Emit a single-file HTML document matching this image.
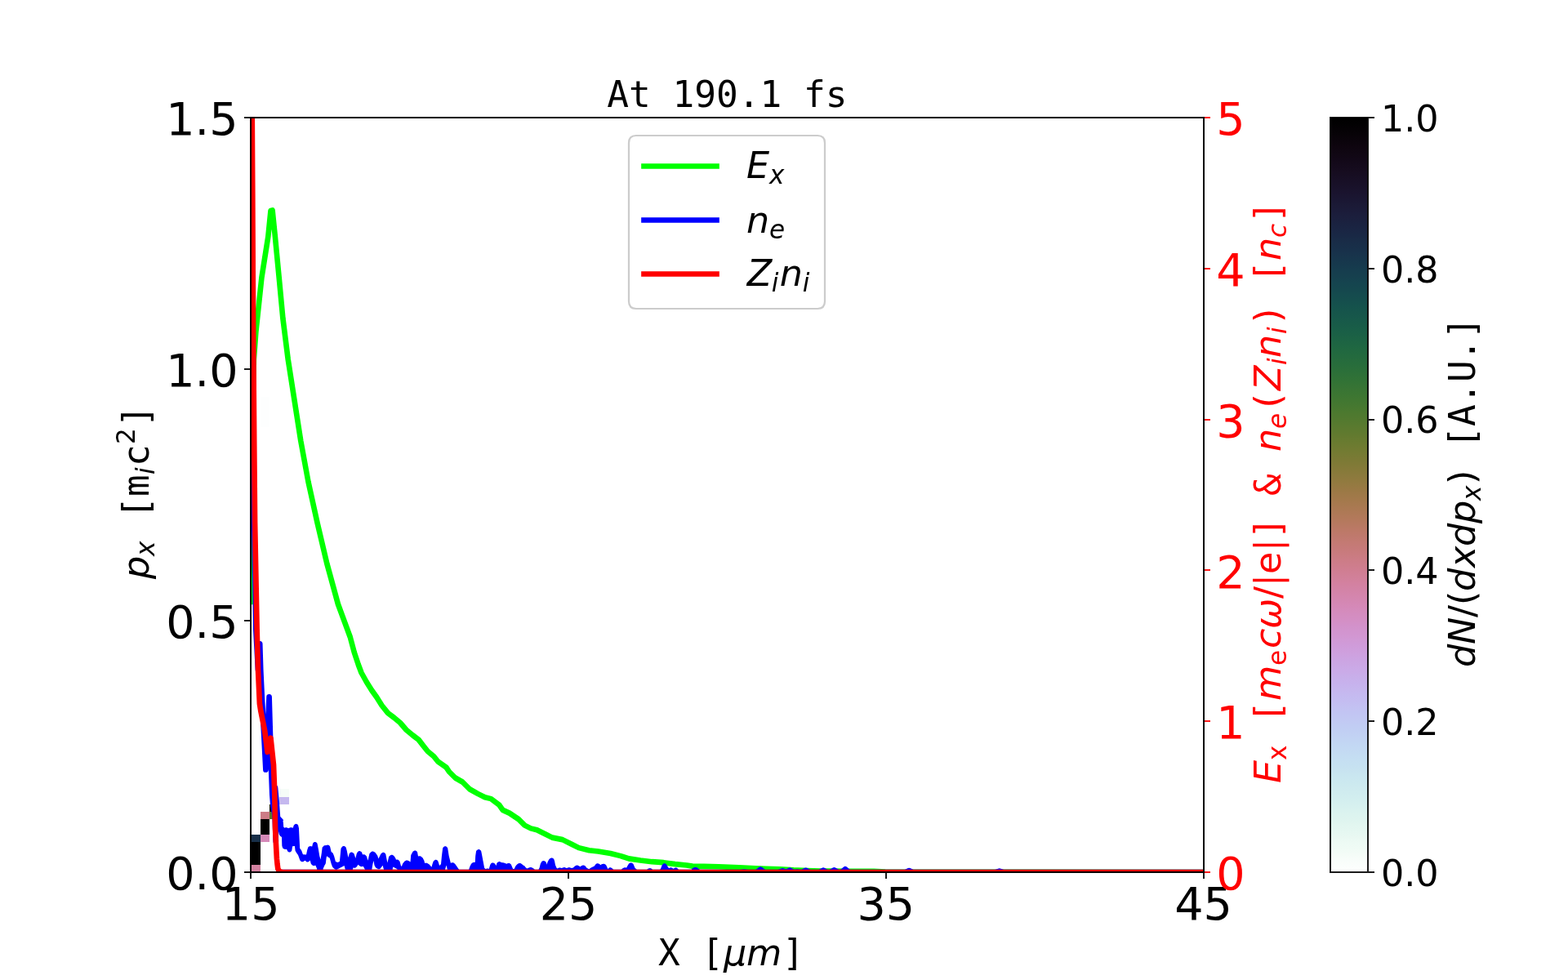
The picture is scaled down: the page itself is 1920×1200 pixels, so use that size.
<!DOCTYPE html>
<html lang="en">
<head>
<meta charset="utf-8">
<title>At 190.1 fs</title>
<style>
html,body{margin:0;padding:0;background:#fff;}
body{width:1920px;height:1200px;overflow:hidden;}
svg{display:block;}
text{white-space:pre;}
.s{font-family:"DejaVu Sans","Liberation Sans",sans-serif;}
.si{font-family:"DejaVu Sans","Liberation Sans",sans-serif;font-style:oblique;}
.m{font-family:"DejaVu Sans Mono","Liberation Mono",monospace;}
.mi{font-family:"DejaVu Sans Mono","Liberation Mono",monospace;font-style:oblique;}
</style>
</head>
<body>
<svg width="1920" height="1200" viewBox="0 0 1920 1200">
<defs>
<clipPath id="ax"><rect x="307.2" y="144" width="1166.4" height="924"/></clipPath>
<linearGradient id="cb" x1="0" y1="0" x2="0" y2="1"><stop offset="0" stop-color="#000000"/><stop offset="0.0078" stop-color="#020102"/><stop offset="0.0156" stop-color="#050205"/><stop offset="0.0234" stop-color="#080308"/><stop offset="0.0312" stop-color="#0b040c"/><stop offset="0.0391" stop-color="#0e050f"/><stop offset="0.0469" stop-color="#100713"/><stop offset="0.0547" stop-color="#120817"/><stop offset="0.0625" stop-color="#140a1b"/><stop offset="0.0703" stop-color="#160c1f"/><stop offset="0.0781" stop-color="#170e23"/><stop offset="0.0859" stop-color="#181027"/><stop offset="0.0938" stop-color="#19122b"/><stop offset="0.1016" stop-color="#1a142f"/><stop offset="0.1094" stop-color="#1a1733"/><stop offset="0.1172" stop-color="#1b1a36"/><stop offset="0.125" stop-color="#1b1c3a"/><stop offset="0.1328" stop-color="#1b1f3d"/><stop offset="0.1406" stop-color="#1a2240"/><stop offset="0.1484" stop-color="#1a2543"/><stop offset="0.1562" stop-color="#192845"/><stop offset="0.1641" stop-color="#192c47"/><stop offset="0.1719" stop-color="#182f49"/><stop offset="0.1797" stop-color="#18324b"/><stop offset="0.1875" stop-color="#17364c"/><stop offset="0.1953" stop-color="#16394d"/><stop offset="0.2031" stop-color="#163d4e"/><stop offset="0.2109" stop-color="#16404e"/><stop offset="0.2188" stop-color="#15444f"/><stop offset="0.2266" stop-color="#15474e"/><stop offset="0.2344" stop-color="#154b4e"/><stop offset="0.2422" stop-color="#154e4d"/><stop offset="0.25" stop-color="#15524c"/><stop offset="0.2578" stop-color="#16554b"/><stop offset="0.2656" stop-color="#17584a"/><stop offset="0.2734" stop-color="#185b48"/><stop offset="0.2812" stop-color="#195e47"/><stop offset="0.2891" stop-color="#1b6145"/><stop offset="0.2969" stop-color="#1d6443"/><stop offset="0.3047" stop-color="#1f6741"/><stop offset="0.3125" stop-color="#22693f"/><stop offset="0.3203" stop-color="#256b3d"/><stop offset="0.3281" stop-color="#286d3b"/><stop offset="0.3359" stop-color="#2b6f39"/><stop offset="0.3438" stop-color="#2f7137"/><stop offset="0.3516" stop-color="#337335"/><stop offset="0.3594" stop-color="#387434"/><stop offset="0.3672" stop-color="#3c7632"/><stop offset="0.375" stop-color="#417731"/><stop offset="0.3828" stop-color="#467830"/><stop offset="0.3906" stop-color="#4c792f"/><stop offset="0.3984" stop-color="#51792f"/><stop offset="0.4062" stop-color="#577a2f"/><stop offset="0.4141" stop-color="#5d7a2f"/><stop offset="0.4219" stop-color="#637a2f"/><stop offset="0.4297" stop-color="#697b30"/><stop offset="0.4375" stop-color="#6f7b31"/><stop offset="0.4453" stop-color="#757b33"/><stop offset="0.4531" stop-color="#7b7a35"/><stop offset="0.4609" stop-color="#817a37"/><stop offset="0.4688" stop-color="#877a3a"/><stop offset="0.4766" stop-color="#8d7a3d"/><stop offset="0.4844" stop-color="#937a40"/><stop offset="0.4922" stop-color="#997944"/><stop offset="0.5" stop-color="#9f7948"/><stop offset="0.5078" stop-color="#a4794c"/><stop offset="0.5156" stop-color="#a97951"/><stop offset="0.5234" stop-color="#ae7956"/><stop offset="0.5312" stop-color="#b3795b"/><stop offset="0.5391" stop-color="#b77961"/><stop offset="0.5469" stop-color="#bc7967"/><stop offset="0.5547" stop-color="#bf796d"/><stop offset="0.5625" stop-color="#c37a73"/><stop offset="0.5703" stop-color="#c67a79"/><stop offset="0.5781" stop-color="#c97b7f"/><stop offset="0.5859" stop-color="#cc7c86"/><stop offset="0.5938" stop-color="#ce7d8c"/><stop offset="0.6016" stop-color="#d07e93"/><stop offset="0.6094" stop-color="#d18099"/><stop offset="0.6172" stop-color="#d381a0"/><stop offset="0.625" stop-color="#d383a6"/><stop offset="0.6328" stop-color="#d485ac"/><stop offset="0.6406" stop-color="#d487b2"/><stop offset="0.6484" stop-color="#d589b8"/><stop offset="0.6562" stop-color="#d48cbe"/><stop offset="0.6641" stop-color="#d48ec3"/><stop offset="0.6719" stop-color="#d391c9"/><stop offset="0.6797" stop-color="#d294ce"/><stop offset="0.6875" stop-color="#d297d2"/><stop offset="0.6953" stop-color="#d09ad7"/><stop offset="0.7031" stop-color="#cf9ddb"/><stop offset="0.7109" stop-color="#cea1df"/><stop offset="0.7188" stop-color="#cca4e2"/><stop offset="0.7266" stop-color="#cba8e5"/><stop offset="0.7344" stop-color="#caabe8"/><stop offset="0.7422" stop-color="#c8afea"/><stop offset="0.75" stop-color="#c7b2ed"/><stop offset="0.7578" stop-color="#c6b6ee"/><stop offset="0.7656" stop-color="#c5baf0"/><stop offset="0.7734" stop-color="#c4bdf1"/><stop offset="0.7812" stop-color="#c3c1f2"/><stop offset="0.7891" stop-color="#c2c5f3"/><stop offset="0.7969" stop-color="#c2c8f3"/><stop offset="0.8047" stop-color="#c1ccf3"/><stop offset="0.8125" stop-color="#c1cff3"/><stop offset="0.8203" stop-color="#c2d2f3"/><stop offset="0.8281" stop-color="#c2d6f3"/><stop offset="0.8359" stop-color="#c3d9f3"/><stop offset="0.8438" stop-color="#c4dcf2"/><stop offset="0.8516" stop-color="#c5dff2"/><stop offset="0.8594" stop-color="#c6e1f1"/><stop offset="0.8672" stop-color="#c8e4f0"/><stop offset="0.875" stop-color="#cae7f0"/><stop offset="0.8828" stop-color="#cce9ef"/><stop offset="0.8906" stop-color="#cfebef"/><stop offset="0.8984" stop-color="#d1edef"/><stop offset="0.9062" stop-color="#d4efef"/><stop offset="0.9141" stop-color="#d7f1ef"/><stop offset="0.9219" stop-color="#dbf3ef"/><stop offset="0.9297" stop-color="#def4ef"/><stop offset="0.9375" stop-color="#e2f6f0"/><stop offset="0.9453" stop-color="#e5f7f1"/><stop offset="0.9531" stop-color="#e9f8f2"/><stop offset="0.9609" stop-color="#edfaf4"/><stop offset="0.9688" stop-color="#f0fbf5"/><stop offset="0.9766" stop-color="#f4fcf7"/><stop offset="0.9844" stop-color="#f8fdfa"/><stop offset="0.9922" stop-color="#fbfefc"/><stop offset="1" stop-color="#ffffff"/></linearGradient>
</defs>
<rect width="1920" height="1200" fill="#fff"/>
<g clip-path="url(#ax)" shape-rendering="crispEdges">
<rect x="307" y="1059" width="12" height="9" fill="#d381a0"/>
<rect x="307" y="1050" width="12" height="9" fill="#000000"/>
<rect x="307" y="1040" width="12" height="10" fill="#000000"/>
<rect x="307" y="1031" width="12" height="9" fill="#000000"/>
<rect x="307" y="1022" width="12" height="9" fill="#182f49"/>
<rect x="319" y="1022" width="11" height="9" fill="#d589b8"/>
<rect x="319" y="1013" width="11" height="9" fill="#000000"/>
<rect x="319" y="1003" width="11" height="10" fill="#000000"/>
<rect x="319" y="994" width="11" height="9" fill="#cc7c86"/>
<rect x="330" y="994" width="12" height="9" fill="#5a7a2f"/>
<rect x="330" y="985" width="12" height="9" fill="#000000"/>
<rect x="342" y="976" width="12" height="9" fill="#c5b8ef"/>
<rect x="342" y="966" width="12" height="10" fill="#f6fcf8"/>
<rect x="319" y="514" width="11" height="9" fill="#fdfefe"/>
<rect x="319" y="504" width="11" height="10" fill="#fdfefe"/>
<rect x="319" y="495" width="11" height="9" fill="#fdfefe"/>
<rect x="319" y="486" width="11" height="9" fill="#fdfefe"/>
</g>
<g clip-path="url(#ax)">
<path d="M307.2 737 L308.5 600 L310.8 440 L313.3 407 L316.9 373 L320.4 340 L325.6 307 L328.3 290 L331.5 258 L333.6 257.5 L336.9 290 L341.7 340 L346.4 390 L352.7 440 L368.3 540 L377.5 590 L388.5 640 L400.3 690 L414 740 L428.75 780 L433.75 798.75 L438.75 813.75 L442.5 823.75 L448.75 835 L455 845 L461.25 853.75 L467.5 863.75 L475 873.12 L482.5 878.75 L490 885 L497.5 893.75 L505 900 L512.5 905.62 L518.75 913.75 L523.75 920 L531.25 926.25 L536.25 932.5 L546.25 939.38 L550 945 L557.5 952.5 L566.25 957.5 L575 966.25 L585 971.88 L593.75 976.25 L601.25 978.12 L611.25 985.62 L615.62 991.88 L623.75 995.62 L635 1003.12 L642.5 1010.62 L650 1014.38 L657.5 1016.25 L667.5 1021.25 L676.25 1025.62 L688.75 1028.12 L700 1033.75 L708.75 1038.12 L721.25 1041.25 L732.5 1042.5 L747.5 1045 L760 1048.12 L770 1051.4 L784.2 1053.5 L798.3 1055.2 L812.5 1056.2 L826.7 1058.1 L840.8 1059.5 L847.9 1060.6 L862 1060.8 L880 1061.25 L905 1062.3 L930 1063.5 L955 1064.3 L971.7 1065.4 L988.3 1066 L1005 1066.5 L1038 1066.8 L1070 1066.8 L1084 1067.6 L1473.6 1068" fill="none" stroke="#00ff00" stroke-width="6.67" stroke-linecap="square" stroke-linejoin="round"/>
<path d="M307.8 100 L308.5 240 L309.1 340 L309.7 440 L310.4 540 L311.2 640 L313.3 770 L316 820 L318.2 788.3 L319.2 820 L320.8 853.3 L325.4 942.5 L329.6 853.3 L332.3 946.7 L333.3 973 L334.4 986.7 L336.6 998 L337.8 1030 L337 964.5 L338.7 983.3 L340 1001.3 L342.5 1004" fill="none" stroke="#0000ff" stroke-width="6.67" stroke-linecap="square" stroke-linejoin="round"/>
<path d="M349 1068 L860 1068 L906.75 1068 L911.25 1067.5 L915.75 1068 L926.75 1068 L931.25 1064.6 L935.75 1068 L953.8 1068 L958.3 1066.4 L962.8 1068 L962.6 1068 L967.1 1065.6 L971.6 1068 L971.75 1068 L976.25 1067.5 L980.75 1068 L982.2 1068 L986.7 1065.8 L991.2 1068 L1003.6 1068 L1008.1 1065.7 L1012.6 1068 L1016.9 1068 L1021.4 1065.4 L1025.9 1068 L1030.5 1068 L1035 1064.2 L1039.5 1068 L1108.7 1068 L1113.2 1066.1 L1117.7 1068 L1219.3 1068 L1223.8 1066.7 L1228.3 1068 L1473.6 1068" fill="none" stroke="#0000ff" stroke-width="6.67" stroke-linecap="square" stroke-linejoin="round"/>
<path d="M340.31 1014.38 L341.78 1021.42 L342.13 1022.26 L343.16 1023.72 L345 1025 L345.3 1035.31 L345.4 1035.93 L345.97 1037.83 L346.22 1038.39 L346.6 1038.86 L347.08 1039.23 L347.74 1039.6 L348.46 1039.87 L349.23 1039.9 L350.94 1039.69 L352.18 1042.16 L352.58 1042.74 L353.32 1043.28 L353.97 1043.53 L354.66 1043.59 L355.34 1043.45 L355.95 1043.12 L356.85 1042.34 L357.17 1041.82 L357.34 1041.23 L358.13 1036.25 L360.94 1035.94 L361.51 1041.35 L361.62 1041.86 L361.84 1042.33 L363.34 1044.84 L365 1046.88 L367.29 1053.17 L367.56 1053.71 L367.96 1054.16 L368.66 1054.76 L369.17 1055.1 L369.74 1055.31 L370.35 1055.36 L370.96 1055.25 L371.51 1054.99 L372.55 1054.35 L373.75 1053.75 L374.79 1054.79 L375.24 1055.14 L375.76 1055.38 L376.31 1055.49 L376.88 1055.46 L377.7 1055.18 L378.45 1054.67 L379.69 1053.44 L380.75 1057.43 L381.03 1058.07 L381.48 1058.6 L382.54 1059.55 L383 1059.87 L383.54 1060.08 L384.1 1060.15 L384.67 1060.09 L385.2 1059.9 L386.25 1059.38 L388.12 1063.75 L388.38 1068.72 L388.49 1069.32 L388.74 1069.87 L389.13 1070.34 L389.62 1070.7 L390.18 1070.92 L390.78 1071 L393.01 1071 L393.61 1070.92 L394.17 1070.7 L394.66 1070.33 L395.05 1069.86 L395.3 1069.31 L395.4 1068.71 L395.63 1063.75 L397.5 1059.38 L398.44 1057.97 L398.69 1057.48 L398.82 1056.94 L399.68 1050.06 L400.31 1048.13 L401.6 1049.41 L402.22 1049.86 L403.75 1050.63 L405.6 1057.41 L406.98 1061.3 L407.25 1061.83 L407.65 1062.28 L409.91 1064.3 L410.38 1064.62 L410.91 1064.83 L411.48 1064.9 L412.04 1064.84 L412.58 1064.65 L416.27 1062.8 L421.56 1060 L422.81 1064.69 L422.93 1068.67 L423.03 1069.28 L423.28 1069.84 L423.66 1070.32 L424.15 1070.69 L424.72 1070.92 L425.33 1071 L429.24 1071 L429.84 1070.92 L430.4 1070.7 L430.88 1070.35 L431.27 1069.88 L431.52 1069.33 L431.63 1068.74 L431.88 1064.69 L432.5 1062.5 L433.97 1062.68 L434.62 1062.68 L435.25 1062.49 L435.8 1062.15 L436.58 1061.5 L437.08 1060.92 L438.44 1058.75 L440.27 1060.32 L441.07 1060.77 L441.8 1061.02 L442.5 1061.14 L443.21 1061.05 L444.69 1060.63 L446.87 1064.38 L447.09 1068.72 L447.19 1069.32 L447.45 1069.87 L447.83 1070.34 L448.32 1070.7 L448.88 1070.92 L449.49 1071 L452.72 1071 L453.32 1070.92 L453.88 1070.7 L454.37 1070.34 L454.75 1069.87 L455.01 1069.32 L455.11 1068.72 L455.33 1064.61 L456.55 1057.56 L457.5 1054.07 L458.38 1059.03 L458.59 1059.69 L459.69 1061.87 L460.07 1062.43 L460.6 1062.86 L462.27 1063.86 L462.85 1064.11 L463.47 1064.21 L464.09 1064.13 L465.31 1063.77 L465.76 1063.46 L466.14 1063.07 L468.62 1059.69 L470 1064.69 L470.19 1068.71 L470.3 1069.31 L470.55 1069.87 L470.93 1070.34 L471.42 1070.7 L471.99 1070.92 L472.59 1071 L478.02 1071 L478.62 1070.92 L479.18 1070.7 L479.67 1070.34 L480.06 1069.87 L480.31 1069.32 L480.42 1068.72 L480.62 1064.77 L481.25 1061.57 L485.62 1063.75 L486.87 1065 L487.08 1068.73 L487.19 1069.33 L487.44 1069.87 L487.82 1070.34 L488.31 1070.7 L488.87 1070.92 L489.47 1071 L542.41 1071 L543.01 1070.92 L543.58 1070.7 L544.07 1070.34 L544.45 1069.87 L544.7 1069.31 L544.81 1068.71 L545 1064.69 L546.56 1059.38 L547.81 1064.69 L548 1068.71 L548.1 1069.31 L548.35 1069.86 L548.74 1070.34 L549.22 1070.7 L549.79 1070.92 L550.39 1071 L859.76 1071 L860.38 1070.92 L860.95 1070.69 L861.44 1070.32 L861.82 1069.84 L862.07 1069.27 L862.16 1068.67 L862.1 1068.05 L861.89 1067.48 L861.53 1066.97 L861.06 1066.58 L860.5 1066.32 L857.4 1065.31 L855.78 1063.97 L854.14 1062.74 L853.73 1062.49 L853.28 1062.33 L852.07 1062.03 L851.25 1061.97 L850.47 1062.05 L849.77 1062.23 L848.68 1062.69 L848.09 1063.05 L847.62 1063.57 L846.49 1065.26 L846.4 1065.31 L831.36 1065.31 L829.67 1063.41 L829.23 1063.03 L828.23 1062.58 L827.55 1062.43 L826.86 1062.48 L826.22 1062.73 L824.58 1063.64 L823.07 1062.73 L822.32 1062.43 L821.75 1062.28 L821.16 1062.27 L820.59 1062.41 L819.12 1062.97 L818.07 1061.93 L816.84 1059.7 L815.9 1058.36 L815.4 1057.85 L814.78 1057.5 L813.91 1057.25 L813.37 1057.24 L812.84 1057.35 L812.14 1057.69 L811.64 1058.17 L810.76 1059.27 L810.39 1059.95 L809.22 1063.23 L807.95 1065.26 L807.86 1065.31 L799.32 1065.31 L798.43 1064.24 L797.97 1063.82 L797.43 1063.53 L796.64 1063.23 L795.93 1063.08 L795.21 1063.15 L793.89 1063.55 L793.42 1063.87 L791.77 1065.31 L780 1065 L777.5 1062.81 L775.63 1058.3 L775.37 1057.81 L775.01 1057.4 L773.83 1056.69 L773.16 1056.44 L772.44 1056.4 L771.74 1056.58 L770.97 1056.91 L770.38 1057.27 L769.91 1057.78 L768.37 1060.13 L767.19 1062.5 L765.33 1062.27 L764.7 1062.27 L764.09 1062.44 L762.92 1062.94 L762.17 1063.45 L760.62 1065 L751.25 1065 L749.61 1063.36 L749.09 1062.96 L748.37 1062.55 L747.79 1062.32 L747.16 1062.24 L746.54 1062.33 L745.97 1062.56 L745.51 1062.89 L744.25 1064.06 L743.16 1061.34 L742.24 1059.48 L741.96 1059.04 L741.58 1058.67 L741.14 1058.39 L740.33 1058 L739.67 1057.79 L738.98 1057.78 L737.75 1057.93 L737.21 1058.06 L736.72 1058.31 L735.31 1059.25 L734.37 1058.31 L733.66 1057.82 L732.68 1057.38 L732.14 1057.21 L731.58 1057.17 L731.02 1057.26 L730.5 1057.48 L729.43 1058.18 L729.05 1058.64 L727.81 1060.62 L725.15 1061.66 L723.27 1062.73 L721.25 1064.25 L718.44 1062.81 L716.91 1060.78 L716.52 1060.37 L716.04 1060.06 L715.27 1059.68 L714.67 1059.49 L714.05 1059.45 L713.44 1059.57 L712.48 1059.9 L711.93 1060.17 L710.31 1061.25 L708.84 1060.37 L707.54 1059.73 L706.9 1059.52 L706.22 1059.5 L705.56 1059.68 L704.49 1060.13 L703.73 1060.64 L701.87 1062.5 L700 1063 L697.61 1062.23 L696.88 1062.12 L696.14 1062.23 L693.75 1063 L691.86 1062.16 L691.25 1061.98 L690.61 1061.97 L690 1062.13 L687.5 1063.12 L686.09 1062.6 L685.39 1062.45 L684.67 1062.51 L684 1062.79 L682.63 1063.62 L681.56 1062.81 L680 1059.37 L679.09 1054.54 L678.43 1052.48 L678.17 1051.93 L677.77 1051.46 L677.27 1051.11 L676.1 1050.58 L675.5 1050.52 L674.92 1050.6 L674.36 1050.83 L673.1 1051.54 L672.57 1051.94 L672.17 1052.48 L670.56 1055.52 L669.5 1058.74 L669.16 1057.03 L668.8 1056.17 L668.21 1055.28 L667.75 1054.77 L667.16 1054.41 L666.57 1054.16 L665.95 1053.98 L665.3 1053.98 L664.68 1054.16 L663.73 1054.62 L663.34 1054.98 L663.04 1055.4 L662.03 1057.22 L661.8 1057.81 L660.62 1062.5 L659.37 1065 L655 1065 L652.79 1063.06 L652.15 1062.66 L651.03 1062.18 L650.3 1062 L649.55 1062.05 L648.28 1062.34 L645.31 1063.43 L643.75 1062.19 L642.16 1060.35 L640.31 1059.37 L638.98 1058.04 L638.47 1057.65 L637.81 1057.28 L637.19 1057.03 L636.52 1056.97 L635.86 1057.1 L634.35 1057.61 L633.8 1057.88 L633.33 1058.29 L631.49 1060.35 L631.1 1060.96 L629.69 1064.06 L628.13 1064.06 L625.92 1058.83 L625.53 1058.2 L624.98 1057.72 L624.21 1057.24 L623.68 1056.99 L623.1 1056.88 L622.52 1056.91 L621.96 1057.08 L620.31 1057.81 L617.78 1056.69 L617.2 1056.51 L613.75 1055.93 L612.5 1055.31 L611.9 1055.11 L611.27 1055.06 L610.66 1055.18 L610.09 1055.46 L609.22 1056.04 L608.77 1056.43 L608.43 1056.92 L608.22 1057.48 L607.62 1059.99 L606.25 1057.96 L605.89 1057.55 L604.63 1056.75 L604.04 1056.51 L603.41 1056.44 L602.78 1056.53 L601.89 1056.85 L601.44 1057.18 L601.07 1057.61 L600.52 1058.45 L600.21 1059.1 L598.75 1064.06 L597.74 1063.62 L597.22 1063.55 L596.69 1063.6 L594.38 1064.06 L593.11 1062.75 L590 1046.24 L589.25 1042.48 L589.06 1041.92 L588.74 1041.42 L588.31 1041.01 L587.6 1040.49 L587.09 1040.2 L586.53 1040.05 L585.95 1040.03 L585.38 1040.16 L584.86 1040.42 L584.03 1040.97 L583.52 1041.41 L583.16 1041.98 L582.97 1042.63 L582.18 1048.23 L581.75 1055.75 L580.04 1055.89 L579.41 1056.02 L578.83 1056.32 L577.67 1057.15 L577.24 1057.55 L576.92 1058.03 L575.39 1061.1 L574.06 1065 L562.19 1065 L560.97 1063.18 L559.98 1061.85 L557.68 1058.39 L557.26 1057.92 L556 1056.81 L555.5 1056.47 L554.93 1056.27 L554.33 1056.22 L553.73 1056.32 L551.88 1056.87 L549.68 1048.07 L548.25 1038.9 L548.01 1038.18 L547.57 1037.57 L546.92 1036.92 L546.44 1036.55 L545.89 1036.31 L545.29 1036.22 L544.69 1036.28 L544.12 1036.49 L543.62 1036.84 L542.85 1037.53 L542.48 1037.96 L542.21 1038.46 L542.08 1039.01 L540.93 1048.16 L540 1058.12 L538.13 1060 L536.48 1054.8 L536.15 1054.13 L535.63 1053.6 L534.6 1052.91 L534.03 1052.75 L533.44 1052.74 L532.86 1052.87 L532.34 1053.13 L531.59 1053.63 L531.04 1054.14 L530.67 1054.8 L529.66 1057.58 L528.44 1061.87 L525.89 1058.76 L525.27 1058.22 L523.21 1056.99 L522.73 1056.77 L522.21 1056.66 L521.68 1056.67 L520 1056.87 L519.45 1054.11 L519.2 1053.43 L517.75 1050.78 L517.46 1050.35 L517.07 1050 L515.21 1048.62 L514.64 1048.31 L514 1048.16 L513.35 1048.19 L512 1048.43 L511.12 1043.8 L510.93 1043.2 L510.58 1042.67 L510.11 1042.25 L509.59 1041.9 L509.03 1041.62 L508.41 1041.5 L507.79 1041.53 L507.19 1041.73 L506.31 1042.16 L505.71 1042.59 L505.26 1043.17 L503.49 1046.44 L503.3 1046.89 L503.21 1047.37 L502.5 1055.49 L500.76 1054.29 L499.45 1053.63 L498.78 1053.41 L498.08 1053.4 L497.4 1053.59 L496.16 1054.14 L495.67 1054.43 L495.26 1054.83 L493.37 1057.19 L492.99 1057.87 L491.87 1060.93 L490.94 1060 L489.56 1055.04 L489.29 1054.43 L488.87 1053.91 L488.09 1053.2 L487.63 1052.87 L487.11 1052.65 L486.55 1052.57 L485.99 1052.61 L485 1052.81 L484.48 1051.24 L484.2 1050.67 L482.8 1048.57 L482.46 1048.17 L482.04 1047.85 L480.81 1047.11 L480.27 1046.87 L479.7 1046.77 L479.12 1046.81 L478.57 1046.99 L478.07 1047.29 L476.89 1048.24 L476.52 1048.61 L476.24 1049.05 L476.06 1049.55 L474.38 1056.55 L472.36 1046.2 L472.18 1045.65 L471.88 1045.16 L470.87 1044.29 L470.32 1043.97 L469.7 1043.8 L469.06 1043.81 L468.44 1043.98 L467.9 1044.31 L466.68 1045.28 L466.3 1045.66 L466.01 1046.13 L463.44 1051.56 L462.31 1047.9 L461.94 1047.17 L459.71 1044.2 L459.33 1043.8 L458.88 1043.5 L457.38 1042.74 L456.85 1042.54 L456.28 1042.47 L455.72 1042.54 L455.19 1042.75 L454.72 1043.07 L453.09 1044.49 L452.61 1045.06 L452.33 1045.76 L450.5 1053.74 L448.97 1048.83 L448.66 1048.19 L448.18 1047.67 L447.12 1046.82 L446.52 1046.47 L445.85 1046.31 L445.15 1046.34 L444.06 1046.56 L443.12 1043.97 L442.86 1043.46 L442.49 1043.02 L442.02 1042.69 L440.87 1042.13 L440.3 1042.05 L439.74 1042.11 L439.2 1042.29 L438.79 1042.49 L438.2 1042.89 L437.76 1043.46 L437.03 1044.73 L436.79 1045.31 L435.31 1050.93 L433.7 1045.83 L433.47 1045.32 L433.13 1044.88 L432.7 1044.53 L431.76 1043.93 L431.22 1043.67 L430.64 1043.56 L430.05 1043.59 L429.48 1043.76 L428.97 1044.07 L428.41 1044.52 L427.91 1045.07 L427.6 1045.73 L426.38 1049.99 L424.71 1041.38 L423.7 1038.04 L423.47 1037.52 L423.12 1037.07 L422.68 1036.71 L422.06 1036.33 L421.52 1036.08 L420.94 1035.97 L420.35 1036 L419.79 1036.18 L419.28 1036.5 L418.87 1036.92 L417.9 1038.21 L417.59 1038.78 L417.43 1039.42 L415.93 1054.69 L413.75 1055.93 L411.25 1055.31 L410.94 1055 L409.1 1048.27 L407.78 1045.05 L407.42 1044.44 L406.9 1043.97 L405.63 1043.12 L404.22 1036.93 L403.98 1036.3 L403.57 1035.76 L402.63 1034.92 L402.08 1034.68 L401.49 1034.58 L400.89 1034.64 L400 1035 L397.73 1035.23 L397.19 1035.34 L396.7 1035.58 L396.27 1035.92 L395.27 1036.92 L394.94 1037.33 L394.71 1037.8 L394.59 1038.32 L393.75 1045.02 L392.5 1052.49 L391.24 1048.06 L389.69 1038.79 L388.6 1033.29 L388.32 1032.57 L387.84 1031.97 L387.32 1031.5 L386.82 1031.16 L386.25 1030.96 L385.65 1030.9 L385.06 1030.99 L384.5 1031.23 L383.61 1032.01 L383.21 1032.55 L382.97 1033.17 L382.19 1036.56 L380.76 1036.15 L380.01 1036.06 L379.26 1036.22 L378.57 1036.47 L377.95 1036.82 L377.46 1037.33 L377.14 1037.96 L376.22 1040.76 L375 1046.56 L370.94 1046.25 L369.18 1041.57 L368.86 1040.97 L367.19 1038.75 L365.95 1013.98 L365.23 1010.94 L365.01 1010.37 L364.65 1009.87 L363.77 1009.23 L363.16 1008.96 L362.5 1008.87 L361.84 1008.96 L361.23 1009.23 L360.3 1009.89 L359.96 1010.32 L359.73 1010.82 L358.75 1013.75 L357.1 1013.25 L356.54 1013.16 L355.98 1013.19 L355.44 1013.36 L353.13 1014.37 L351.56 1013.51 L350.93 1013.28 L350.27 1013.22 L349.62 1013.34 L348.44 1013.75 L347.19 1012.5 L346.84 1007.34 L346.34 1004.84 L345.99 1003.98 L345.21 1002.81 L344.71 1002.27 L343.37 1001.19 L342.88 1000.86 L342.32 1000.65 L341.73 1000.59 L341.14 1000.68 L340.6 1000.91 L340.12 1001.26 L339.75 1001.73 L339.5 1002.27 L339.39 1002.85 L338.85 1012.03 L338.89 1012.6 L339.06 1013.15 L339.35 1013.64 L339.76 1014.05 Z" fill="#0000ff" fill-rule="evenodd"/>
<path d="M308.5 100 L309.3 240 L309.75 340 L310.4 440 L311.2 540 L312.1 640 L314.6 770 L316 820 L317.9 861.7 L319.2 870 L324.2 895 L327.5 920.8 L331.5 903.75 L335 936.7 L336.25 970 L336.7 995 L337 1013.75 L337.9 1032.5 L338.9 1051.25 L339.5 1057.5 L340.3 1063.75 L341.9 1066.9 L345 1067.8 L349.4 1068 L1473.6 1068" fill="none" stroke="#ff0000" stroke-width="6.67" stroke-linecap="square" stroke-linejoin="round"/>
</g>
<g shape-rendering="crispEdges">
<g fill="#000" fill-opacity="0.894">
<rect x="306" y="1069" width="2" height="7"/>
<rect x="695" y="1069" width="2" height="7"/>
<rect x="1084" y="1069" width="2" height="7"/>
<rect x="1473" y="1069" width="2" height="7"/>
<rect x="299" y="143" width="7" height="2"/>
<rect x="299" y="451" width="7" height="2"/>
<rect x="299" y="759" width="7" height="2"/>
<rect x="299" y="1067" width="7" height="2"/>
</g>
<g fill="#f00" fill-opacity="0.894">
<rect x="1475" y="143" width="7" height="2"/>
<rect x="1475" y="328" width="7" height="2"/>
<rect x="1475" y="513" width="7" height="2"/>
<rect x="1475" y="697" width="7" height="2"/>
<rect x="1475" y="882" width="7" height="2"/>
<rect x="1475" y="1067" width="7" height="2"/>
</g>
<g fill="#020202">
<rect x="306" y="143" width="1169" height="2"/>
<rect x="306" y="1067" width="1169" height="2"/>
<rect x="306" y="143" width="2" height="926"/>
<rect x="1473" y="143" width="2" height="926"/>
</g>
<rect x="1629" y="144" width="46" height="924" fill="url(#cb)"/>
<g fill="#000" fill-opacity="0.894">
<rect x="1676" y="143" width="7" height="2"/>
<rect x="1676" y="328" width="7" height="2"/>
<rect x="1676" y="513" width="7" height="2"/>
<rect x="1676" y="697" width="7" height="2"/>
<rect x="1676" y="882" width="7" height="2"/>
<rect x="1676" y="1067" width="7" height="2"/>
<rect x="1628" y="143" width="48" height="2"/>
<rect x="1628" y="1067" width="48" height="2"/>
<rect x="1628" y="145" width="2" height="922"/>
<rect x="1674" y="145" width="2" height="922"/>
</g>
</g>
<path d="M778.89 378 H1001.11 Q1010 378 1010 369.11 V174.89 Q1010 166 1001.11 166 H778.89 Q770 166 770 174.89 V369.11 Q770 378 778.89 378 Z" fill="#fff" fill-opacity="0.8" stroke="#ccc" stroke-width="2.22"/>
<path d="M788.5 203.5 H877.5" stroke="#00ff00" stroke-width="6.67" stroke-linecap="square" fill="none"/>
<path d="M788.5 269.5 H877.5" stroke="#0000ff" stroke-width="6.67" stroke-linecap="square" fill="none"/>
<path d="M788.5 335.5 H877.5" stroke="#ff0000" stroke-width="6.67" stroke-linecap="square" fill="none"/>
<g>
<text class="s" x="307.2" y="1125.77" font-size="55.56" text-anchor="middle">15</text>
<text class="s" x="696" y="1125.77" font-size="55.56" text-anchor="middle">25</text>
<text class="s" x="1084.8" y="1125.77" font-size="55.56" text-anchor="middle">35</text>
<text class="s" x="1473.6" y="1125.77" font-size="55.56" text-anchor="middle">45</text>
<text class="s" x="291.64" y="1089.11" font-size="55.56" text-anchor="end">0.0</text>
<text class="s" x="291.64" y="781.11" font-size="55.56" text-anchor="end">0.5</text>
<text class="s" x="291.64" y="473.11" font-size="55.56" text-anchor="end">1.0</text>
<text class="s" x="291.64" y="165.11" font-size="55.56" text-anchor="end">1.5</text>
<text class="m" x="890.4" y="130.67" font-size="44.44" text-anchor="middle">At 190.1 fs</text>
<text class="s" x="1690.88" y="1084.89" font-size="44.44">0.0</text>
<text class="s" x="1690.88" y="900.09" font-size="44.44">0.2</text>
<text class="s" x="1690.88" y="715.29" font-size="44.44">0.4</text>
<text class="s" x="1690.88" y="530.49" font-size="44.44">0.6</text>
<text class="s" x="1690.88" y="345.69" font-size="44.44">0.8</text>
<text class="s" x="1690.88" y="160.89" font-size="44.44">1.0</text>
<text class="s" x="1489.16" y="1089.11" font-size="55.56" fill="#ff0000">0</text>
<text class="s" x="1489.16" y="904.31" font-size="55.56" fill="#ff0000">1</text>
<text class="s" x="1489.16" y="719.51" font-size="55.56" fill="#ff0000">2</text>
<text class="s" x="1489.16" y="534.71" font-size="55.56" fill="#ff0000">3</text>
<text class="s" x="1489.16" y="349.91" font-size="55.56" fill="#ff0000">4</text>
<text class="s" x="1489.16" y="165.11" font-size="55.56" fill="#ff0000">5</text>
<g transform="translate(806 1181.65)"><text><tspan class="m" x="0" y="0" font-size="44.44">X</tspan><tspan class="m" x="26" y="0" font-size="44.44"> </tspan><tspan class="m" x="53" y="0" font-size="44.44">[</tspan><tspan class="si" x="80" y="0" font-size="44.44">μ</tspan><tspan class="si" x="108" y="0" font-size="44.44">m</tspan><tspan class="m" x="152" y="0" font-size="44.44">]</tspan></text></g>
<g transform="translate(181.5 708.9) rotate(-90)"><text><tspan class="si" x="0" y="0" font-size="44.44">p</tspan><tspan class="si" x="28" y="7" font-size="31.11">x</tspan><tspan class="m" x="47" y="0" font-size="44.44"> </tspan><tspan class="m" x="74" y="0" font-size="44.44">[</tspan><tspan class="m" x="101" y="0" font-size="44.44">m</tspan><tspan class="si" x="128" y="7" font-size="31.11">i</tspan><tspan class="m" x="138" y="0" font-size="44.44">c</tspan><tspan class="s" x="165" y="-17" font-size="31.11">2</tspan><tspan class="m" x="186" y="0" font-size="44.44">]</tspan></text></g>
<g transform="translate(1567.5 958.95) rotate(-90)" fill="#ff0000"><text><tspan class="si" x="0" y="0" font-size="44.44">E</tspan><tspan class="s" x="28" y="7" font-size="31.11">x</tspan><tspan class="m" x="47" y="0" font-size="44.44"> </tspan><tspan class="m" x="74" y="0" font-size="44.44">[</tspan><tspan class="si" x="101" y="0" font-size="44.44">m</tspan><tspan class="s" x="144" y="7" font-size="31.11">e</tspan><tspan class="si" x="165" y="0" font-size="44.44">c</tspan><tspan class="si" x="189" y="0" font-size="44.44">ω</tspan><tspan class="s" x="226" y="0" font-size="44.44">/</tspan><tspan class="s" x="241" y="0" font-size="44.44">|</tspan><tspan class="s" x="256" y="0" font-size="44.44">e</tspan><tspan class="s" x="284" y="0" font-size="44.44">|</tspan><tspan class="m" x="299" y="0" font-size="44.44">]</tspan><tspan class="m" x="325" y="0" font-size="44.44"> </tspan><tspan class="m" x="352" y="0" font-size="44.44">&amp;</tspan><tspan class="m" x="379" y="0" font-size="44.44"> </tspan><tspan class="si" x="406" y="0" font-size="44.44">n</tspan><tspan class="si" x="434" y="7" font-size="31.11">e</tspan><tspan class="m" x="454" y="0" font-size="44.44">(</tspan><tspan class="si" x="481" y="0" font-size="44.44">Z</tspan><tspan class="si" x="512" y="7" font-size="31.11">i</tspan><tspan class="si" x="521" y="0" font-size="44.44">n</tspan><tspan class="si" x="550" y="7" font-size="31.11">i</tspan><tspan class="m" x="560" y="0" font-size="44.44">)</tspan><tspan class="m" x="586" y="0" font-size="44.44"> </tspan><tspan class="m" x="613" y="0" font-size="44.44">[</tspan><tspan class="si" x="640" y="0" font-size="44.44">n</tspan><tspan class="si" x="668" y="7" font-size="31.11">c</tspan><tspan class="m" x="686" y="0" font-size="44.44">]</tspan></text></g>
<g transform="translate(1805.6 816.95) rotate(-90)"><text><tspan class="si" x="0" y="0" font-size="44.44">d</tspan><tspan class="si" x="28" y="0" font-size="44.44">N</tspan><tspan class="s" x="61" y="0" font-size="44.44">/</tspan><tspan class="s" x="76" y="0" font-size="44.44">(</tspan><tspan class="si" x="93" y="0" font-size="44.44">d</tspan><tspan class="si" x="122" y="0" font-size="44.44">x</tspan><tspan class="si" x="148" y="0" font-size="44.44">d</tspan><tspan class="si" x="176" y="0" font-size="44.44">p</tspan><tspan class="si" x="204" y="7" font-size="31.11">x</tspan><tspan class="s" x="224" y="0" font-size="44.44">)</tspan><tspan class="m" x="241" y="0" font-size="44.44"> </tspan><tspan class="m" x="268" y="0" font-size="44.44">[</tspan><tspan class="m" x="295" y="0" font-size="44.44">A</tspan><tspan class="m" x="322" y="0" font-size="44.44">.</tspan><tspan class="m" x="349" y="0" font-size="44.44">U</tspan><tspan class="m" x="375" y="0" font-size="44.44">.</tspan><tspan class="m" x="402" y="0" font-size="44.44">]</tspan></text></g>
<g transform="translate(914.05 217.55)"><text><tspan class="si" x="0" y="0" font-size="44.44">E</tspan><tspan class="si" x="28" y="7" font-size="31.11">x</tspan></text></g>
<g transform="translate(914.05 284.7)"><text><tspan class="si" x="0" y="0" font-size="44.44">n</tspan><tspan class="si" x="28" y="7" font-size="31.11">e</tspan></text></g>
<g transform="translate(914.8 349.55)"><text><tspan class="si" x="0" y="0" font-size="44.44">Z</tspan><tspan class="si" x="30" y="7" font-size="31.11">i</tspan><tspan class="si" x="40" y="0" font-size="44.44">n</tspan><tspan class="si" x="68" y="7" font-size="31.11">i</tspan></text></g>
</g>
</svg>
</body>
</html>
